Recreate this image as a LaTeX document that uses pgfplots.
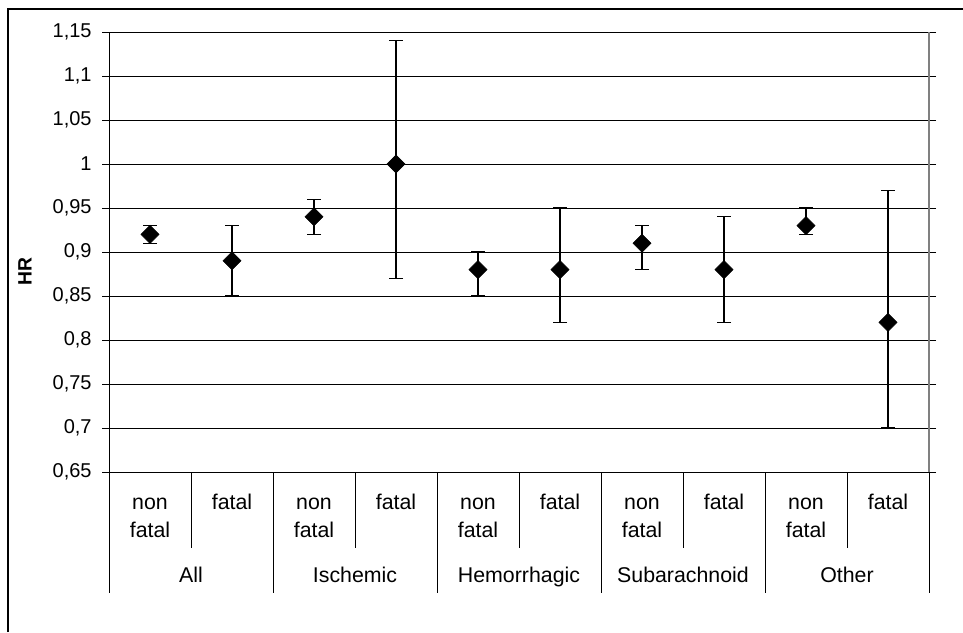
\documentclass[border=0pt]{standalone}
\usepackage{pgfplots}
\pgfplotsset{compat=1.18}
\usepackage{fontspec}
\setmainfont{Liberation Sans}
\begin{document}
\begin{tikzpicture}[x=1pt,y=1pt]
\path[use as bounding box] (0,0) rectangle (722.25,474);
\draw[line width=0.9pt] (6,0) -- (6,467.25) -- (722.25,467.25);
\begin{axis}[
  at={(81.75pt,120pt)}, anchor=south west,
  scale only axis, width=615pt, height=330pt,
  xmin=-0.5, xmax=9.5, ymin=0.65, ymax=1.15,
  ytick={0.65,0.7,0.75,0.8,0.85,0.9,0.95,1,1.05,1.1,1.15},
  ymajorgrids, grid style={black, line width=0.75pt},
  axis line style={black, line width=0.75pt},
  tick align=outside, major tick length=5.25pt,
  ytick style={black, line width=0.75pt},
  xtick={0,1,2,3,4,5,6,7,8,9}, xtick style={draw=none},
  xticklabels={{\strut non\\\strut fatal},{\strut fatal},{\strut non\\\strut fatal},{\strut fatal},{\strut non\\\strut fatal},{\strut fatal},{\strut non\\\strut fatal},{\strut fatal},{\strut non\\\strut fatal},{\strut fatal}},
  xticklabel style={font=\fontsize{16pt}{20.7pt}\selectfont, align=center, anchor=north, yshift=-4.93pt},
  extra x ticks={0.5,2.5,4.5,6.5,8.5},
  extra x tick labels={{\strut All},{\strut Ischemic},{\strut Hemorrhagic},{\strut Subarachnoid},{\strut Other}},
  extra x tick style={xticklabel style={yshift=-54.8pt}},
  yticklabel style={font=\fontsize{15pt}{18pt}\selectfont, xshift=-4.3pt},
  /pgf/number format/use comma,
  /pgf/number format/assume math mode=true,
  ylabel={\textbf{HR}},
  ylabel style={font=\fontsize{14.5pt}{17pt}\selectfont, at={(axis description cs:-0.1024,0.4557)}, anchor=center},
  clip=false,
]
\addplot[only marks, mark=square*, mark size=4.8pt, mark options={rotate=45, fill=black, draw=black},
  error bars/.cd, y dir=both, y explicit,
  error bar style={line width=1pt, black},
  error mark options={rotate=90, mark size=5.25pt, line width=1pt, black}]
coordinates {
(0,0.92) += (0,0.01) -= (0,0.01)
(1,0.89) += (0,0.04) -= (0,0.04)
(2,0.94) += (0,0.02) -= (0,0.02)
(3,1.00) += (0,0.14) -= (0,0.13)
(4,0.88) += (0,0.02) -= (0,0.03)
(5,0.88) += (0,0.07) -= (0,0.06)
(6,0.91) += (0,0.02) -= (0,0.03)
(7,0.88) += (0,0.06) -= (0,0.06)
(8,0.93) += (0,0.02) -= (0,0.01)
(9,0.82) += (0,0.15) -= (0,0.12)
};
\draw[gray, line width=1pt] (rel axis cs:1,0) -- (rel axis cs:1,1);
\pgfplotsinvokeforeach{-0.5,1.5,3.5,5.5,7.5,9.5}{\draw[black, line width=0.75pt] (axis cs:#1,0.65) -- ++(0pt,-90.75pt);}
\pgfplotsinvokeforeach{0.5,2.5,4.5,6.5,8.5}{\draw[black, line width=0.75pt] (axis cs:#1,0.65) -- ++(0pt,-57pt);}
\end{axis}
\end{tikzpicture}
\end{document}
